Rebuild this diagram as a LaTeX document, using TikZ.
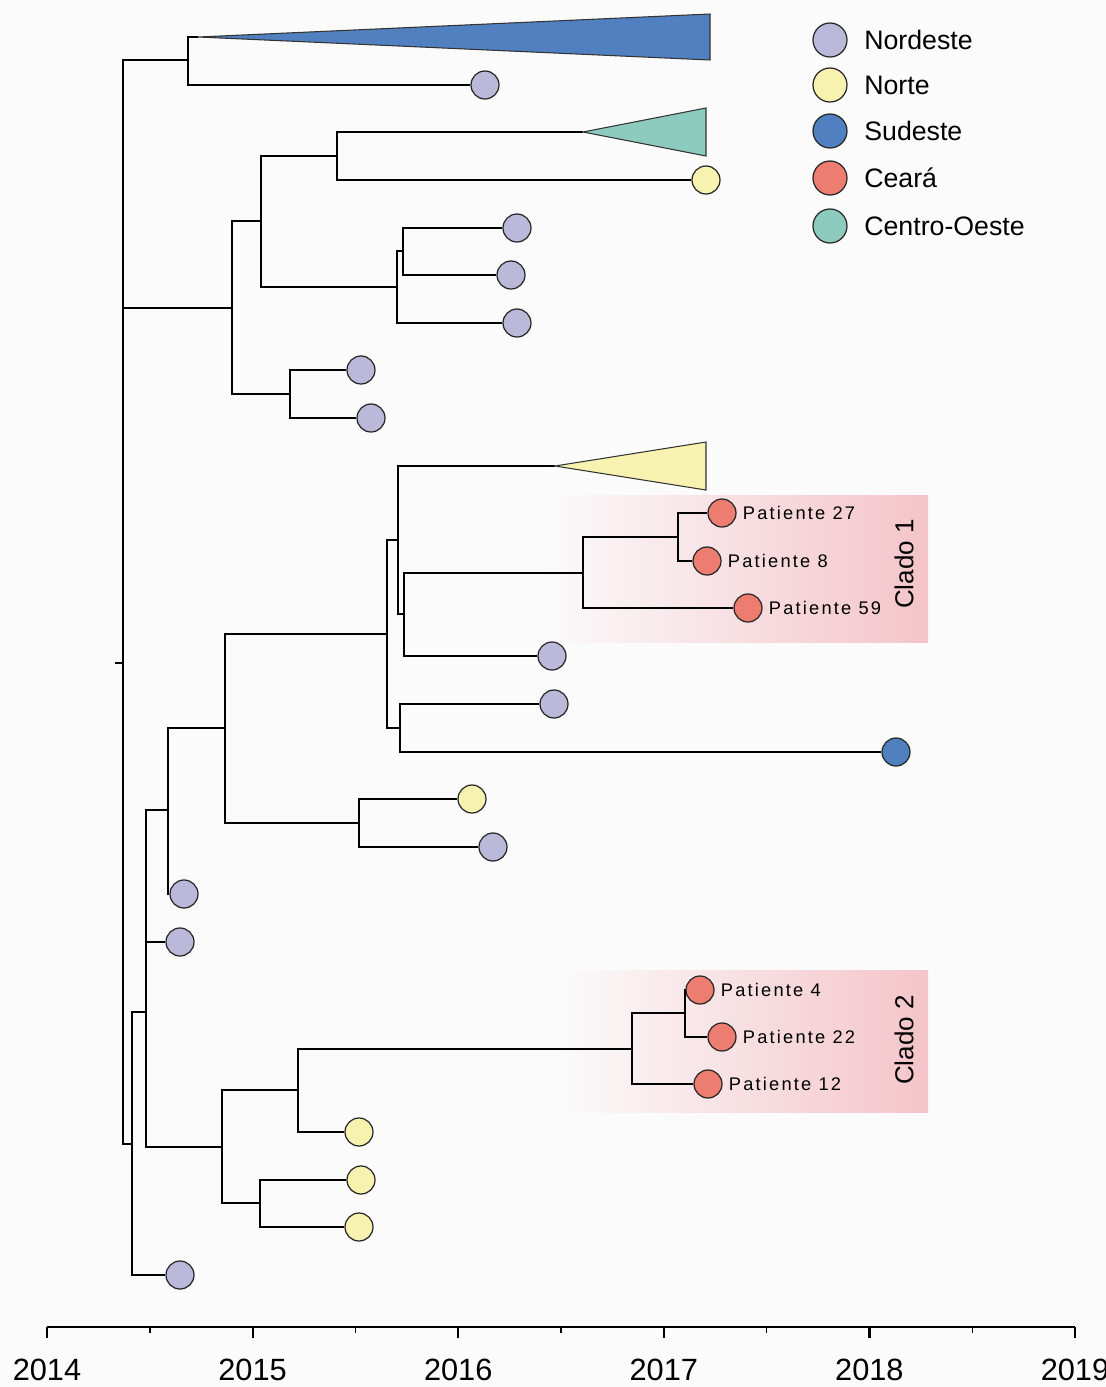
\documentclass[tikz,border=0pt]{standalone}
\usepackage{fontspec}
\setmainfont{Liberation Sans}
\newfontfamily\tipfont{Liberation Sans}[LetterSpace=12]
\usetikzlibrary{positioning}

\definecolor{bgcol}{RGB}{251,251,252}
\definecolor{nordeste}{RGB}{186,185,218}
\definecolor{norte}{RGB}{247,242,176}
\definecolor{sudeste}{RGB}{81,128,192}
\definecolor{ceara}{RGB}{237,125,113}
\definecolor{centro}{RGB}{141,203,191}
\definecolor{cladepink}{RGB}{244,196,201}

\begin{document}
\begin{tikzpicture}[x=0.02cm,y=-0.02cm,
  branch/.style={line width=1.25pt,black},
  tip/.style={draw=black!85,line width=0.7pt,circle,inner sep=0pt,minimum size=0.56cm},
  key/.style={draw=black!85,line width=0.7pt,circle,inner sep=0pt,minimum size=0.68cm},
  collapsed/.style={draw=black!80,line width=0.6pt},
  pat/.style={font=\tipfont\fontsize{10.4}{12}\selectfont,inner sep=0pt},
  keytext/.style={font=\fontsize{15.2}{18}\selectfont,anchor=west,inner sep=0pt},
  cladetext/.style={font=\fontsize{14.8}{17}\selectfont,rotate=90,inner sep=0pt},
  yeartext/.style={font=\fontsize{17.5}{20}\selectfont,inner sep=0pt}]

  \useasboundingbox (0,0) rectangle (1106,1387);
  \fill[bgcol] (0,0) rectangle (1106,1387);

  % clade boxes
  \shade[left color=bgcol,right color=cladepink] (540,495) rectangle (928,642);
  \shade[left color=bgcol,right color=cladepink] (555,970) rectangle (928,1112);

  % internal nodes
  \coordinate (stem) at (115,663);
  \coordinate (r) at (123,663);
  \coordinate (a) at (188,60);
  \coordinate (b) at (232,308);
  \coordinate (c) at (132,1144);
  \coordinate (d) at (261,221);
  \coordinate (e) at (290,394);
  \coordinate (f) at (337,156);
  \coordinate (g) at (397,287);
  \coordinate (h) at (403,251);
  \coordinate (i) at (146,1012);
  \coordinate (j) at (168,810);
  \coordinate (k) at (222,1147);
  \coordinate (l) at (225,728);
  \coordinate (m) at (387,634);
  \coordinate (n) at (359,823);
  \coordinate (o) at (398,540);
  \coordinate (p) at (400,728);
  \coordinate (q) at (404,614);
  \coordinate (s) at (583,573);
  \coordinate (u) at (678,537);
  \coordinate (v) at (298,1090);
  \coordinate (w) at (260,1203);
  \coordinate (x) at (632,1049);
  \coordinate (y) at (685,1013);

  % collapsed clades
  \coordinate (blueclade) at (198,37);
  \coordinate (tealclade) at (583,132);
  \coordinate (yellowclade) at (555,466);

  % tips
  \node[tip,fill=nordeste] (t1) at (485,85) {};
  \node[tip,fill=norte] (t2) at (706,180) {};
  \node[tip,fill=nordeste] (t3) at (517,228) {};
  \node[tip,fill=nordeste] (t4) at (511,275) {};
  \node[tip,fill=nordeste] (t5) at (517,323) {};
  \node[tip,fill=nordeste] (t6) at (361,370) {};
  \node[tip,fill=nordeste] (t7) at (371,418) {};
  \node[tip,fill=ceara] (p27) at (722,513) {};
  \node[tip,fill=ceara] (p8) at (707,561) {};
  \node[tip,fill=ceara] (p59) at (748,608) {};
  \node[tip,fill=nordeste] (t8) at (552,656) {};
  \node[tip,fill=nordeste] (t9) at (554,704) {};
  \node[tip,fill=sudeste] (t10) at (896,752) {};
  \node[tip,fill=norte] (t11) at (472,799) {};
  \node[tip,fill=nordeste] (t12) at (493,847) {};
  \node[tip,fill=nordeste] (t13) at (184,894) {};
  \node[tip,fill=nordeste] (t14) at (180,942) {};
  \node[tip,fill=ceara] (p4) at (700,990) {};
  \node[tip,fill=ceara] (p22) at (722,1037) {};
  \node[tip,fill=ceara] (p12) at (708,1084) {};
  \node[tip,fill=norte] (t15) at (359,1132) {};
  \node[tip,fill=norte] (t16) at (361,1180) {};
  \node[tip,fill=norte] (t17) at (359,1227) {};
  \node[tip,fill=nordeste] (t18) at (180,1275) {};

  % branches
  \draw[branch] (stem) -- (r);
  \draw[branch] (r) |- (a);
  \draw[branch] (r) |- (b);
  \draw[branch] (r) |- (c);
  \draw[branch] (a) |- (blueclade);
  \draw[branch] (a) |- (t1);
  \draw[branch] (b) |- (d);
  \draw[branch] (b) |- (e);
  \draw[branch] (d) |- (f);
  \draw[branch] (d) |- (g);
  \draw[branch] (f) |- (tealclade);
  \draw[branch] (f) |- (t2);
  \draw[branch] (g) |- (h);
  \draw[branch] (g) |- (t5);
  \draw[branch] (h) |- (t3);
  \draw[branch] (h) |- (t4);
  \draw[branch] (e) |- (t6);
  \draw[branch] (e) |- (t7);
  \draw[branch] (c) |- (i);
  \draw[branch] (c) |- (t18);
  \draw[branch] (i) |- (j);
  \draw[branch] (i) |- (t14);
  \draw[branch] (i) |- (k);
  \draw[branch] (j) |- (l);
  \draw[branch] (j) |- (t13);
  \draw[branch] (l) |- (m);
  \draw[branch] (l) |- (n);
  \draw[branch] (m) |- (o);
  \draw[branch] (m) |- (p);
  \draw[branch] (o) |- (yellowclade);
  \draw[branch] (o) |- (q);
  \draw[branch] (q) |- (s);
  \draw[branch] (q) |- (t8);
  \draw[branch] (s) |- (u);
  \draw[branch] (s) |- (p59);
  \draw[branch] (u) |- (p27);
  \draw[branch] (u) |- (p8);
  \draw[branch] (p) |- (t9);
  \draw[branch] (p) |- (t10);
  \draw[branch] (n) |- (t11);
  \draw[branch] (n) |- (t12);
  \draw[branch] (k) |- (v);
  \draw[branch] (k) |- (w);
  \draw[branch] (v) |- (x);
  \draw[branch] (v) |- (t15);
  \draw[branch] (x) |- (y);
  \draw[branch] (x) |- (p12);
  \draw[branch] (y) |- (p4);
  \draw[branch] (y) |- (p22);
  \draw[branch] (w) |- (t16);
  \draw[branch] (w) |- (t17);

  \filldraw[collapsed,fill=sudeste] (blueclade) -- (710,14) -- (710,60) -- cycle;
  \filldraw[collapsed,fill=centro] (tealclade) -- (706,108) -- (706,156) -- cycle;
  \filldraw[collapsed,fill=norte] (yellowclade) -- (706,442) -- (706,490) -- cycle;

  % patient labels
  \node[pat,right=0.12cm of p27] (lp27) {Patiente 27};
  \node[pat,right=0.12cm of p8] (lp8) {Patiente 8};
  \node[pat,right=0.12cm of p59] (lp59) {Patiente 59};
  \node[pat,right=0.12cm of p4] (lp4) {Patiente 4};
  \node[pat,right=0.12cm of p22] (lp22) {Patiente 22};
  \node[pat,right=0.12cm of p12] (lp12) {Patiente 12};
  \node[cladetext] (clado1) at (904,564) {Clado 1};
  \node[cladetext] (clado2) at (904,1040) {Clado 2};

  % legend
  \node[key,fill=nordeste] (k1) at (830,40) {};
  \node[key,fill=norte] (k2) at (830,85) {};
  \node[key,fill=sudeste] (k3) at (830,131) {};
  \node[key,fill=ceara] (k4) at (830,178) {};
  \node[key,fill=centro] (k5) at (830,226) {};
  \node[keytext] (lk1) at (864,40) {Nordeste};
  \node[keytext] (lk2) at (864,85) {Norte};
  \node[keytext] (lk3) at (864,131) {Sudeste};
  \node[keytext] (lk4) at (864,178) {Ceará};
  \node[keytext] (lk5) at (864,226) {Centro-Oeste};

  % time axis
  \coordinate (ax0) at (47,1327);
  \coordinate (ax1) at (1075,1327);
  \draw[branch] (ax0) -- (ax1);
  \foreach \yr [count=\i from 0] in {2014,...,2019} {
    \draw[branch] (47+205.6*\i,1327) -- ++(0,11);
    \node[yeartext] (yr\yr) at (47+205.6*\i,1370) {\yr};
  }
  \foreach \i in {0,...,4}
    \draw[line width=0.8pt] (149.8+205.6*\i,1327) -- ++(0,6);

\end{tikzpicture}
\end{document}
